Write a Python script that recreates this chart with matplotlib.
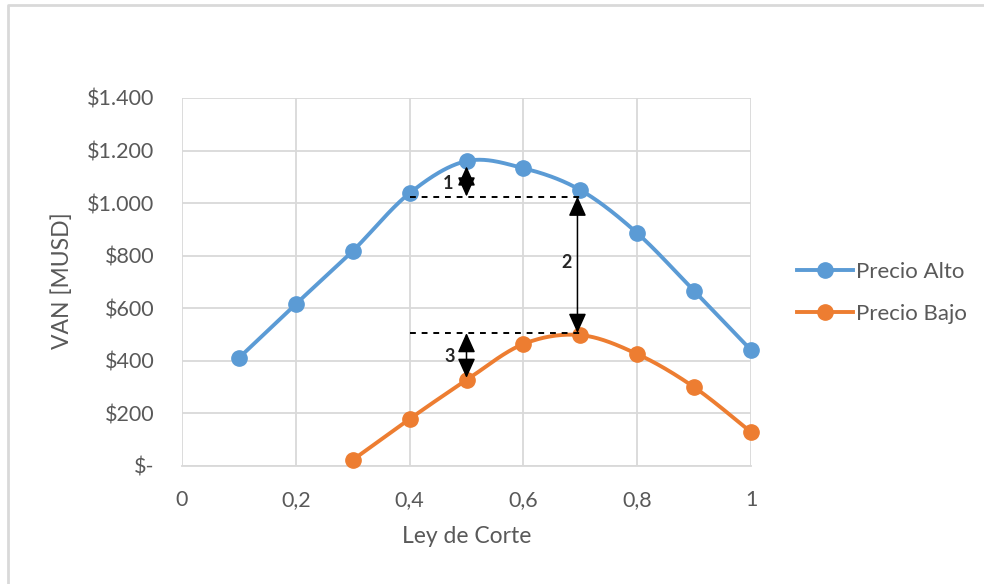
import numpy as np
import matplotlib
matplotlib.use("Agg")
import matplotlib.pyplot as plt
from matplotlib.lines import Line2D

plt.rcParams['font.family'] = ['Lato', 'DejaVu Sans']

# Data
ley_alto = [0.1, 0.2, 0.3, 0.4, 0.5, 0.6, 0.7, 0.8, 0.9, 1.0]
van_alto = [411, 616, 818, 1038, 1160, 1133, 1050, 886, 666, 441]
ley_bajo = [0.3, 0.4, 0.5, 0.6, 0.7, 0.8, 0.9, 1.0]
van_bajo = [23, 179, 327, 464, 498, 426, 300, 129]
y_ticks = [0, 200, 400, 600, 800, 1000, 1200, 1400]
y_tick_labels = ['$-', '$200', '$400', '$600', '$800', '$1.000', '$1.200', '$1.400']
x_ticks = [0, 0.2, 0.4, 0.6, 0.8, 1.0]
x_tick_labels = ['0', '0,2', '0,4', '0,6', '0,8', '1']

# Difference markers
ref_high = 1025   # dashed reference under the high-price curve
ref_low = 506     # dashed reference above the low-price curve
arrow1 = (0.5, 1140, 1025)
arrow2 = (0.695, 1025, 506)
arrow3 = (0.5, 506, 335)

BLUE = '#5B9BD5'
ORANGE = '#ED7D31'
TXT = '#595959'
GRID = '#D9D9D9'


def smooth(x, y, n=40):
    """Cubic Bezier smoothing through every point (spreadsheet-style)."""
    x = np.asarray(x, float)
    y = np.asarray(y, float)
    px, py = [], []
    m = len(x)
    for i in range(m - 1):
        x0, y0 = (x[i - 1], y[i - 1]) if i > 0 else (x[i], y[i])
        x3, y3 = (x[i + 2], y[i + 2]) if i + 2 < m else (x[i + 1], y[i + 1])
        x1, y1 = x[i], y[i]
        x2, y2 = x[i + 1], y[i + 1]
        c1x = x1 + (x2 - x0) / 6
        c1y = y1 + (y2 - y0) / 6
        c2x = x2 - (x3 - x1) / 6
        c2y = y2 - (y3 - y1) / 6
        t = np.linspace(0, 1, n)
        bx = (1 - t) ** 3 * x1 + 3 * (1 - t) ** 2 * t * c1x + 3 * (1 - t) * t ** 2 * c2x + t ** 3 * x2
        by = (1 - t) ** 3 * y1 + 3 * (1 - t) ** 2 * t * c1y + 3 * (1 - t) * t ** 2 * c2y + t ** 3 * y2
        px.extend(bx)
        py.extend(by)
    return np.array(px), np.array(py)


fig = plt.figure(figsize=(9.84, 5.84), dpi=100)
W, H = 984, 584
ax = fig.add_axes([182 / W, 1 - 466 / H, (751 - 182) / W, (466 - 98) / H])

# chart frame (top and left edges)
fig.lines.append(Line2D([8 / W, 8 / W, 1.0], [0.0, 1 - 5 / H, 1 - 5 / H],
                        transform=fig.transFigure, color='#D9D9D9', lw=2.0))

sx, sy = smooth(ley_alto, van_alto)
ax.plot(sx, sy, color=BLUE, lw=2.8, zorder=3, solid_capstyle='round', clip_on=False)
ax.plot(ley_alto, van_alto, 'o', color=BLUE, ms=11, zorder=4, clip_on=False)
sx, sy = smooth(ley_bajo, van_bajo)
ax.plot(sx, sy, color=ORANGE, lw=2.8, zorder=3, solid_capstyle='round', clip_on=False)
ax.plot(ley_bajo, van_bajo, 'o', color=ORANGE, ms=11, zorder=4, clip_on=False)

# legend proxies
ax.plot([], [], '-o', color=BLUE, lw=2.8, ms=11, label='Precio Alto')
ax.plot([], [], '-o', color=ORANGE, lw=2.8, ms=11, label='Precio Bajo')

ax.set_xlim(0, 1)
ax.set_ylim(0, 1400)
ax.set_xticks(x_ticks)
ax.set_xticklabels(x_tick_labels)
ax.set_yticks(y_ticks)
ax.set_yticklabels(y_tick_labels)
ax.grid(True, color=GRID, lw=1.3)
ax.set_axisbelow(True)
for s in ['top', 'right', 'left']:
    ax.spines[s].set_visible(False)
ax.spines['bottom'].set_color(GRID)
ax.spines['bottom'].set_linewidth(1.3)
ax.tick_params(length=0, labelsize=15.5, colors=TXT)
ax.tick_params(axis='y', pad=20)
ax.tick_params(axis='x', pad=17)
ax.set_xlabel('Ley de Corte', fontsize=16.5, color=TXT, labelpad=12)
ax.set_ylabel('VAN [MUSD]', fontsize=16.5, color=TXT, va='center')
ax.yaxis.set_label_coords((62 - 182) / (751 - 182), 0.503)

# dashed references
ax.plot([0.4, 0.7], [ref_high, ref_high], ls=(0, (3, 3)), color='black', lw=1.4, zorder=5)
ax.plot([0.4, 0.7], [ref_low, ref_low], ls=(0, (3, 3)), color='black', lw=1.4, zorder=5)

# double-headed arrows
for (xa, ya, yb) in [arrow1, arrow2, arrow3]:
    ax.annotate('', xy=(xa, yb), xytext=(xa, ya),
                arrowprops=dict(arrowstyle='<|-|>,head_length=0.6,head_width=0.27',
                                color='black', lw=1.1,
                                mutation_scale=20, shrinkA=0, shrinkB=0), zorder=6)

ax.text(0.468, 1075, '1', fontsize=13, fontweight='bold', color='#262626',
        ha='center', va='center', zorder=7)
ax.text(0.675, 775, '2', fontsize=13, fontweight='bold', color='#262626',
        ha='center', va='center', zorder=7)
ax.text(0.47, 415, '3', fontsize=13, fontweight='bold', color='#262626',
        ha='center', va='center', zorder=7)

leg = ax.legend(loc='center left', bbox_to_anchor=(1.046, 0.47), frameon=False,
                fontsize=16, labelcolor=TXT, handlelength=2.5, handletextpad=0.15,
                labelspacing=1.0)

fig.savefig('out.png', dpi=100, facecolor='white')
